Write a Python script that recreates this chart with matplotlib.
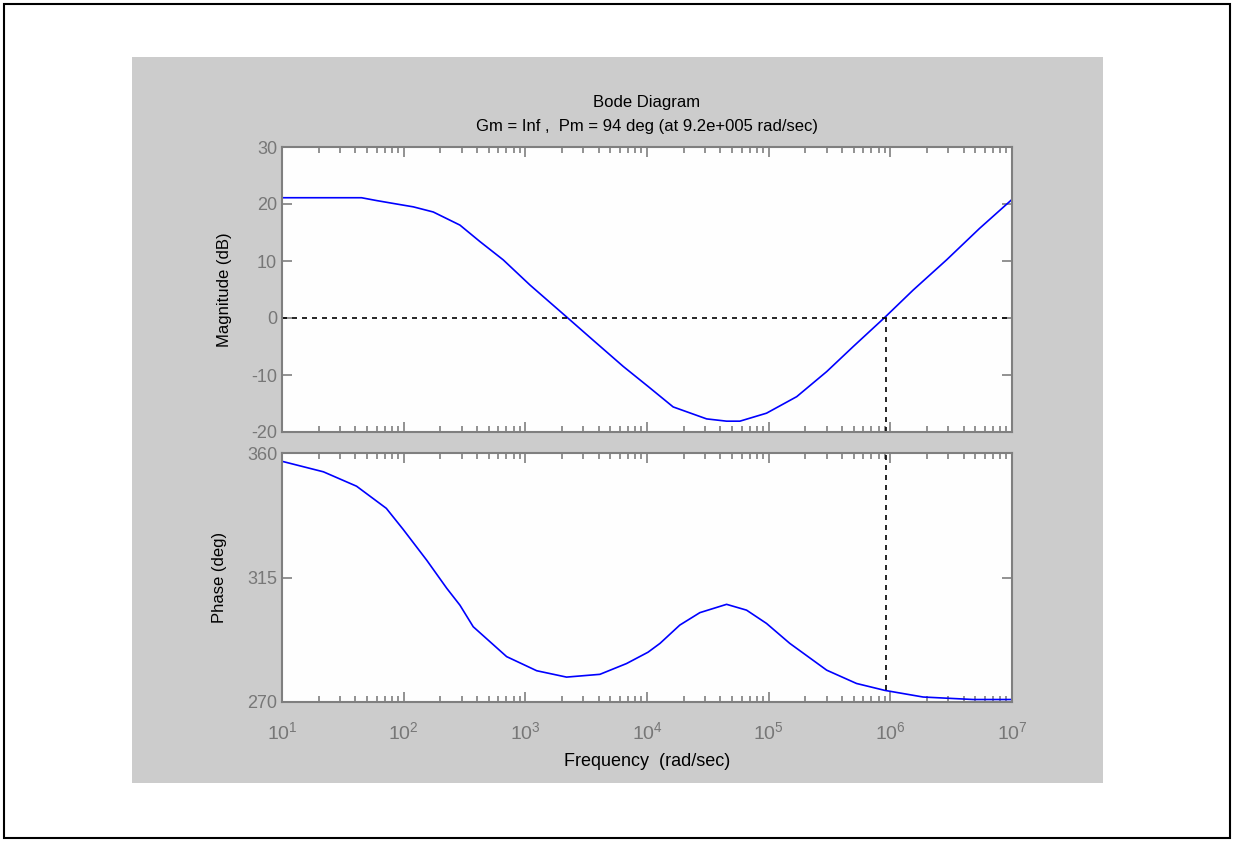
import matplotlib.pyplot as plt
from matplotlib.patches import Rectangle
from matplotlib.ticker import LogLocator, NullFormatter

plt.rcParams['font.family'] = ['Liberation Sans', 'DejaVu Sans']
plt.rcParams['axes.unicode_minus'] = False

# frequency points (rad/sec)
freq = [10, 45, 60, 82, 120, 175, 290, 424, 658, 1090, 2180, 3610, 6380, 10200,
        16400, 30900, 45100, 58000, 96000, 1.7e5, 3.0e5, 4.96e5, 9.0e5, 1.54e6,
        2.9e6, 5.4e6, 1e7]
mag_db = [21.1, 21.1, 20.6, 20.1, 19.5, 18.6, 16.3, 13.4, 10.2, 5.8, 0.2, -3.9,
          -8.5, -12.0, -15.6, -17.7, -18.1, -18.1, -16.7, -13.8, -9.4, -5.0, 0.1,
          4.9, 10.2, 15.7, 20.8]

freq_ph = [10, 21.9, 41, 72, 99, 155, 226, 290, 373, 702, 1240, 2180, 4100, 6790,
           10200, 12800, 18600, 27200, 45100, 65800, 96000, 1.49e5, 3.0e5,
           5.27e5, 9.0e5, 1.86e6, 4.8e6, 1e7]
phase = [357.0, 353.2, 348.0, 340.0, 332.4, 321.2, 311.1, 305.0, 297.2, 286.4, 281.3,
         279.0, 280.0, 283.9, 288.0, 291.2, 297.8, 302.3, 305.3, 303.2, 298.4,
         291.2, 281.5, 276.7, 274.2, 271.8, 270.9, 270.9]

wc = 9.2e5
ph_wc = 274.2

fig = plt.figure(figsize=(12.33, 8.42), dpi=100)
fig.patches.append(Rectangle((4/1233, 4/842), 1226/1233, 834/842, transform=fig.transFigure,
                             facecolor='white', edgecolor='black', lw=1.5, zorder=-2))
fig.patches.append(Rectangle((132/1233, 1 - 783/842), 971/1233, 726/842, transform=fig.transFigure,
                             facecolor='#cccccc', edgecolor='none', zorder=-1))

ax1 = fig.add_axes([282/1233, 1 - 432/842, 730/1233, 285/842])
ax2 = fig.add_axes([282/1233, 1 - 702/842, 730/1233, 249/842])

gray = '#7f7f7f'
for ax in (ax1, ax2):
    ax.set_facecolor('#fefefe')
    ax.set_xscale('log')
    ax.set_xlim(10, 1e7)
    ax.xaxis.set_major_locator(LogLocator(base=10, numticks=20))
    ax.xaxis.set_minor_locator(LogLocator(base=10, subs=range(2, 10), numticks=20))
    ax.xaxis.set_minor_formatter(NullFormatter())
    for s in ax.spines.values():
        s.set_color(gray)
        s.set_linewidth(1.5)
    ax.tick_params(which='both', direction='in', top=True, right=True, color=gray,
                   labelcolor='#777777', labelsize=13, width=1.2)
    ax.tick_params(which='major', length=7)
    ax.tick_params(which='minor', length=4)

ax1.plot(freq, mag_db, color='#0000ff', lw=1.2)
ax1.axhline(0, color='black', ls='--', lw=1.2, dashes=(3, 3))
ax1.plot([wc, wc], [-20, 0], color='black', ls='--', lw=1.2, dashes=(3, 3))
ax1.set_ylim(-20, 30)
ax1.set_yticks([-20, -10, 0, 10, 20, 30])
ax1.tick_params(labelbottom=False)
ax1.set_ylabel('Magnitude (dB)', fontsize=12, labelpad=14)

ax2.plot(freq_ph, phase, color='#0000ff', lw=1.2)
ax2.plot([wc, wc], [ph_wc, 360], color='black', ls='--', lw=1.2, dashes=(3, 3))
ax2.set_ylim(270, 360)
ax2.set_yticks([270, 315, 360])
ax2.set_ylabel('Phase (deg)', fontsize=12, labelpad=14)
ax2.set_xlabel('Frequency  (rad/sec)', fontsize=13, labelpad=7)
ax2.tick_params(axis='x', which='major', pad=14, labelsize=14)

fig.text(647/1233, 1 - 102/842, 'Bode Diagram', ha='center', va='center', fontsize=12)
fig.text(647/1233, 1 - 126/842, 'Gm = Inf ,  Pm = 94 deg (at 9.2e+005 rad/sec)',
         ha='center', va='center', fontsize=12)

fig.savefig('out.png', dpi=100)
